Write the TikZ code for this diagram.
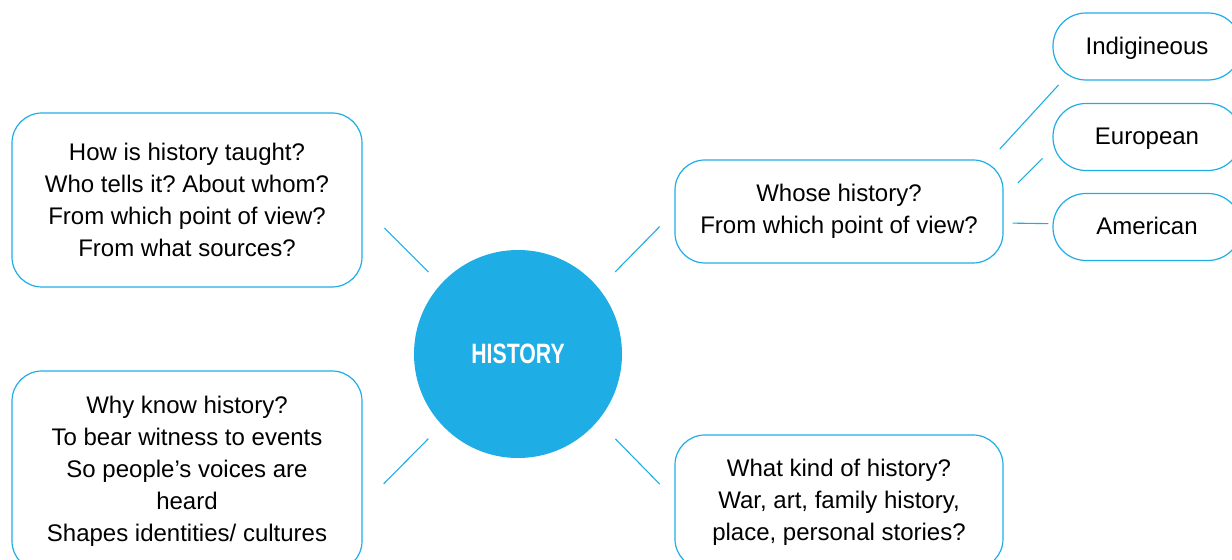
\documentclass[tikz,border=0pt]{standalone}
\usepackage{fontspec}
\setmainfont{Liberation Sans}
\newfontfamily\narrowbold[FakeStretch=0.76]{Liberation Sans}
\definecolor{histblue}{RGB}{30,173,228}
\frenchspacing

\begin{document}
\begin{tikzpicture}[x=0.5pt, y=-0.5pt,
  topic/.style={draw=histblue, line width=0.6pt, rounded corners=15pt, align=center,
    inner sep=0pt, font=\fontsize{12}{16}\selectfont},
  branch/.style={topic, rounded corners=16.5pt, minimum width=94pt, minimum height=33.5pt,
    text height=8pt, text depth=0pt},
  link/.style={draw=histblue, line width=0.55pt}]

  % Page frame
  \useasboundingbox (0,0) rectangle (1232,560);
  \clip (0,0) rectangle (1232,560);

  % Centre
  \node[circle, fill=histblue, minimum size=104pt, inner sep=0pt, text=white,
    font=\narrowbold\bfseries\fontsize{14}{16}\selectfont] (hist) at (518,354) {HISTORY};

  % Questions
  \node[topic, minimum width=175pt, minimum height=87pt] (how) at (187,200)
    {How is history taught?\\Who tells it? About whom?\\From which point of view?\\From what sources?};
  \node[topic, minimum width=175pt, minimum height=100pt] (why) at (187,471)
    {Why know history?\\To bear witness to events\\So people’s voices are\\heard\\Shapes identities/ cultures};
  \node[topic, minimum width=164pt, minimum height=51.5pt] (whose) at (839,211.5)
    {Whose history?\\From which point of view?};
  \node[topic, minimum width=164pt, minimum height=67pt] (what) at (839,502)
    {What kind of history?\\War, art, family history,\\place, personal stories?};

  % Whose history
  \node[branch] (indig) at (1147,46.5) {Indigineous};
  \node[branch] (euro) at (1147,137) {European};
  \node[branch] (amer) at (1147,227) {American};

  % Links
  \draw[link, shorten <=8.5pt, shorten >=15.5pt] (hist.138) -- (how.-2);
  \draw[link, shorten <=11.5pt, shorten >=10.5pt] (hist.39) -- (whose.west);
  \draw[link, shorten <=9.5pt, shorten >=15pt] (hist.223) -- (why.-11);
  \draw[link, shorten <=12.5pt, shorten >=10.5pt] (hist.-40) -- (what.179);
  \draw[link, shorten <=7pt, shorten >=3pt] (whose.19) -- (indig.202);
  \draw[link, shorten <=10pt, shorten >=7pt] (whose.5) -- (euro.187);
  \draw[link, shorten <=4.5pt, shorten >=2pt] (whose.-4) -- (amer.178);

\end{tikzpicture}
\end{document}
